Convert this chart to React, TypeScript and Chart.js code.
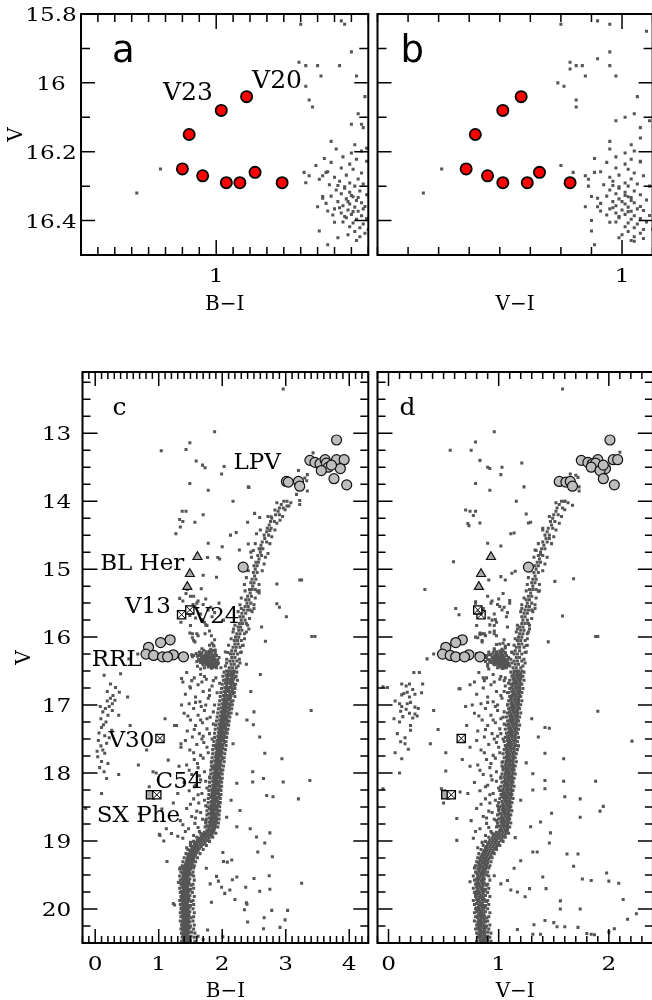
import React, { useEffect, useRef } from "react";
import { Chart, registerables } from "chart.js";

Chart.register(...registerables);

// ---------------- variable stars (V with B−I and V−I colours) ----------------
const rrlV = [16.04, 16.08, 16.15, 16.25, 16.26, 16.27, 16.29, 16.29, 16.29];
const rrlBI = [1.18, 1.03, 0.84, 0.8, 1.23, 0.92, 1.06, 1.14, 1.39];
const rrlVI = [0.67, 0.61, 0.52, 0.49, 0.73, 0.56, 0.61, 0.69, 0.83];

const lpvV = [13.1, 13.4, 13.43, 13.45, 13.39, 13.44, 13.5, 13.39, 13.39, 13.52, 13.55, 13.67, 13.76, 13.71, 13.72, 13.71, 13.78, 13.47];
const lpvBI = [3.8, 3.38, 3.46, 3.54, 3.62, 3.64, 3.67, 3.8, 3.92, 3.86, 3.56, 3.76, 3.96, 3.01, 3.04, 3.2, 3.22, 3.72];
const lpvVI = [2.01, 1.75, 1.81, 1.85, 1.9, 1.88, 1.84, 2.04, 2.08, 1.97, 1.92, 1.95, 2.05, 1.55, 1.61, 1.65, 1.67, 1.95];

const otherV = [14.97];
const otherBI = [2.33];
const otherVI = [1.27];

const blHerV = [14.82, 15.07, 15.26];
const blHerBI = [1.61, 1.49, 1.45];
const blHerVI = [0.93, 0.84, 0.82];

// V13, V24, V30, C54
const boxedV = [15.67, 15.6, 17.49, 18.32];
const boxedBI = [1.36, 1.49, 1.02, 0.97];
const boxedVI = [0.84, 0.81, 0.66, 0.57];

const sxPheV = [18.32];
const sxPheBI = [0.87];
const sxPheVI = [0.52];

// ---------------- field stars, B−I ----------------
// rows: [V, colour, colour, ...]
const rgbRowsBI: number[][] = [
  [14.0, 2.97, 3.02], [14.05, 2.93], [14.1, 2.9, 2.96], [14.15, 2.88], [14.2, 2.84, 2.9], [14.25, 2.78],
  [14.3, 2.82, 2.76], [14.35, 2.74], [14.4, 2.71, 2.77], [14.45, 2.7], [14.5, 2.66, 2.73], [14.55, 2.67],
  [14.6, 2.63, 2.7], [14.65, 2.61], [14.7, 2.64, 2.58], [14.75, 2.6], [14.8, 2.56, 2.62], [14.85, 2.58],
  [14.9, 2.53, 2.57], [14.95, 2.55, 2.5], [15.0, 2.52], [15.05, 2.49, 2.55], [15.1, 2.51], [15.15, 2.47, 2.53],
  [15.2, 2.45, 2.5], [15.25, 2.48], [15.3, 2.43, 2.47, 2.52], [15.32, 2.36, 2.58], [15.35, 2.44], [15.4, 2.4, 2.46],
  [15.45, 2.42, 2.37], [15.5, 2.39, 2.45], [15.55, 2.36, 2.41], [15.58, 2.3, 2.5], [15.6, 2.34, 2.4, 2.44],
  [15.65, 2.31, 2.37], [15.7, 2.33, 2.28], [15.75, 2.3, 2.36], [15.8, 2.27, 2.32, 2.38], [15.85, 2.29, 2.25],
  [15.88, 2.18, 2.42], [15.9, 2.26, 2.31], [15.95, 2.23, 2.28, 2.35], [16.0, 2.21, 2.26], [16.05, 2.24, 2.19, 2.3],
  [16.1, 2.2, 2.25], [16.12, 2.1, 2.33], [16.15, 2.17, 2.22, 2.28], [16.2, 2.15, 2.21], [16.22, 2.05, 2.3],
  [16.25, 2.18, 2.13, 2.24], [16.3, 2.15, 2.2], [16.35, 2.12, 2.17, 2.23], [16.38, 2.07, 2.28], [16.4, 2.14, 2.19],
  [16.45, 2.11, 2.16, 2.22],
  [16.5, 2.07, 2.11, 2.15, 2.19], [16.53, 2.09, 2.14, 2.18], [16.56, 2.06, 2.1, 2.13, 2.17], [16.59, 2.08, 2.15, 2.2],
  [16.62, 2.06, 2.1, 2.14, 2.18], [16.65, 2.07, 2.12, 2.16], [16.68, 2.05, 2.09, 2.13, 2.17], [16.71, 2.07, 2.14, 2.19],
  [16.74, 2.04, 2.08, 2.12, 2.15], [16.77, 2.06, 2.1, 2.16], [16.8, 2.03, 2.07, 2.11, 2.15], [16.83, 2.05, 2.12, 2.17],
  [16.86, 2.02, 2.06, 2.1, 2.14], [16.89, 2.04, 2.09, 2.13], [16.92, 2.01, 2.05, 2.09, 2.12], [16.95, 2.03, 2.07, 2.14],
  [16.98, 2.0, 2.04, 2.08, 2.11], [17.01, 2.02, 2.06, 2.12], [17.04, 1.99, 2.03, 2.07, 2.1], [17.07, 2.01, 2.05, 2.11],
  [17.1, 1.98, 2.02, 2.06, 2.09], [17.13, 2.0, 2.04, 2.1], [17.16, 1.97, 2.01, 2.05, 2.08], [17.19, 1.99, 2.03, 2.07],
  [17.22, 1.96, 2.0, 2.04, 2.07], [17.25, 1.98, 2.02, 2.08], [17.28, 1.95, 1.99, 2.03, 2.06], [17.31, 1.97, 2.01, 2.05],
  [17.34, 1.94, 1.98, 2.02, 2.05], [17.37, 1.96, 2.0, 2.06], [17.4, 1.94, 1.97, 2.01, 2.04], [17.43, 1.95, 1.99, 2.03],
  [17.46, 1.93, 1.96, 2.0, 2.04], [17.49, 1.94, 1.98, 2.02], [17.52, 1.92, 1.95, 1.99, 2.02], [17.55, 1.93, 1.97, 2.03],
  [17.58, 1.91, 1.95, 1.98, 2.01], [17.61, 1.93, 1.96, 2.0], [17.64, 1.9, 1.94, 1.97, 2.01], [17.67, 1.92, 1.95, 1.99],
  [17.7, 1.9, 1.93, 1.96, 2.0], [17.73, 1.91, 1.95, 1.98], [17.76, 1.89, 1.92, 1.96, 1.99], [17.79, 1.91, 1.94, 2.0],
  [17.82, 1.88, 1.92, 1.95, 1.98], [17.85, 1.9, 1.93, 1.97], [17.88, 1.88, 1.91, 1.94, 1.98], [17.91, 1.89, 1.93, 1.96],
  [17.94, 1.87, 1.9, 1.94, 1.97], [17.97, 1.89, 1.92, 1.98], [18.0, 1.86, 1.9, 1.93, 1.96], [18.03, 1.88, 1.91, 1.95],
  [18.06, 1.86, 1.89, 1.93, 1.96], [18.09, 1.87, 1.91, 1.97], [18.12, 1.85, 1.89, 1.92, 1.95], [18.15, 1.87, 1.9, 1.94],
  [18.18, 1.85, 1.88, 1.92, 1.95], [18.21, 1.86, 1.9, 1.96], [18.24, 1.84, 1.88, 1.91, 1.94], [18.27, 1.86, 1.89, 1.93],
  [18.3, 1.84, 1.87, 1.91, 1.94], [18.33, 1.85, 1.89, 1.95], [18.36, 1.83, 1.87, 1.9, 1.93], [18.39, 1.85, 1.88, 1.92],
  [18.42, 1.83, 1.86, 1.9, 1.93], [18.45, 1.84, 1.88, 1.94], [18.48, 1.82, 1.86, 1.89, 1.92], [18.51, 1.84, 1.87, 1.91],
  [18.54, 1.82, 1.85, 1.89, 1.92], [18.57, 1.83, 1.87, 1.93], [18.6, 1.81, 1.85, 1.88, 1.91], [18.63, 1.83, 1.86, 1.9],
  [18.66, 1.8, 1.84, 1.88, 1.91], [18.69, 1.82, 1.86, 1.91], [18.72, 1.79, 1.83, 1.87, 1.9], [18.75, 1.81, 1.85, 1.89],
  [18.78, 1.78, 1.82, 1.86, 1.89], [18.81, 1.79, 1.84, 1.88], [18.84, 1.76, 1.8, 1.84, 1.87],
];

// outer stars of the giant branch, subgiant branch and main sequence
const edgeRowsBI: number[][] = [
  [14.025, 2.86, 3.08], [14.125, 2.99], [14.225, 2.72, 2.95], [14.325, 2.86], [14.425, 2.6, 2.83], [14.525, 2.78],
  [14.625, 2.52, 2.75], [14.725, 2.49], [14.825, 2.46, 2.68], [14.925, 2.66], [15.025, 2.41, 2.63], [15.125, 2.38],
  [15.225, 2.35, 2.58], [15.325, 2.55], [15.425, 2.3, 2.52], [15.525, 2.28, 2.5], [15.625, 2.25, 2.47], [15.725, 2.43],
  [15.825, 2.2, 2.4], [15.925, 2.17, 2.38], [16.025, 2.14, 2.35], [16.125, 2.32], [16.225, 2.09, 2.29], [16.325, 2.07, 2.27],
  [16.425, 2.05, 2.25],
  [16.515, 2.03, 2.23], [16.575, 2.01, 2.22], [16.635, 2.02, 2.24], [16.695, 2.0, 2.21], [16.755, 1.99, 2.2],
  [16.815, 1.98, 2.19], [16.875, 1.97, 2.2], [16.935, 1.96, 2.17], [16.995, 1.95, 2.16], [17.055, 1.94, 2.15],
  [17.115, 1.93, 2.14], [17.175, 1.92, 2.12], [17.235, 1.91, 2.11], [17.295, 1.9, 2.1], [17.355, 1.89, 2.09],
  [17.415, 1.88, 2.08], [17.475, 1.88, 2.07], [17.535, 1.87, 2.06], [17.595, 1.86, 2.06], [17.655, 1.85, 2.05],
  [17.715, 1.85, 2.04], [17.775, 1.84, 2.03], [17.835, 1.83, 2.03], [17.895, 1.83, 2.02], [17.955, 1.82, 2.01],
  [18.015, 1.82, 2.0], [18.075, 1.81, 2.0], [18.135, 1.8, 1.99], [18.195, 1.8, 1.99], [18.255, 1.79, 1.98],
  [18.315, 1.79, 1.98], [18.375, 1.78, 1.97], [18.435, 1.78, 1.97], [18.495, 1.77, 1.96], [18.555, 1.76, 1.96],
  [18.615, 1.76, 1.95], [18.675, 1.75, 1.95], [18.735, 1.74, 1.94], [18.795, 1.73, 1.93],
  [18.885, 1.66, 1.9], [18.945, 1.6, 1.85], [19.005, 1.55, 1.8], [19.065, 1.5, 1.75], [19.125, 1.46, 1.7],
  [19.185, 1.43, 1.65], [19.245, 1.4, 1.61], [19.305, 1.38, 1.58], [19.365, 1.37, 1.56],
  [19.395, 1.34, 1.55], [19.455, 1.35, 1.54], [19.515, 1.33, 1.55], [19.575, 1.34, 1.56], [19.635, 1.35, 1.54],
  [19.695, 1.33, 1.55], [19.755, 1.34, 1.53], [19.815, 1.35, 1.56], [19.875, 1.33, 1.54], [19.935, 1.34, 1.55],
  [19.995, 1.35, 1.54], [20.055, 1.34, 1.56], [20.115, 1.35, 1.55], [20.175, 1.34, 1.54], [20.235, 1.36, 1.56],
  [20.295, 1.35, 1.55], [20.355, 1.36, 1.57], [20.415, 1.37, 1.56], [20.475, 1.36, 1.57],
];

const sgbRowsBI: number[][] = [
  [18.87, 1.72, 1.77, 1.82, 1.86], [18.9, 1.7, 1.75, 1.8, 1.84], [18.93, 1.67, 1.72, 1.77, 1.82],
  [18.96, 1.64, 1.69, 1.74, 1.79], [18.99, 1.61, 1.66, 1.71, 1.76], [19.02, 1.58, 1.63, 1.68, 1.73],
  [19.05, 1.56, 1.6, 1.65, 1.7], [19.08, 1.54, 1.58, 1.62, 1.67], [19.11, 1.52, 1.56, 1.6, 1.64],
  [19.14, 1.5, 1.54, 1.58, 1.62], [19.17, 1.49, 1.52, 1.56, 1.6], [19.2, 1.47, 1.51, 1.54, 1.58],
  [19.23, 1.46, 1.5, 1.53, 1.56], [19.26, 1.45, 1.48, 1.52, 1.55], [19.29, 1.44, 1.47, 1.51, 1.54],
  [19.32, 1.43, 1.46, 1.49, 1.53], [19.35, 1.42, 1.45, 1.48, 1.52],
];

const msRowsBI: number[][] = [
  [19.38, 1.39, 1.43, 1.47, 1.51], [19.41, 1.38, 1.42, 1.46, 1.5], [19.44, 1.4, 1.44, 1.48], [19.47, 1.37, 1.41, 1.45, 1.49],
  [19.5, 1.39, 1.43, 1.47, 1.52], [19.53, 1.38, 1.42, 1.46], [19.56, 1.37, 1.41, 1.44, 1.49], [19.59, 1.39, 1.43, 1.47],
  [19.62, 1.36, 1.4, 1.44, 1.48], [19.65, 1.38, 1.42, 1.46, 1.51], [19.68, 1.37, 1.41, 1.45], [19.71, 1.39, 1.43, 1.47, 1.5],
  [19.74, 1.36, 1.4, 1.44, 1.48], [19.77, 1.38, 1.42, 1.46], [19.8, 1.37, 1.41, 1.45, 1.49], [19.83, 1.39, 1.43, 1.47],
  [19.86, 1.36, 1.4, 1.44, 1.48], [19.89, 1.38, 1.42, 1.46, 1.51], [19.92, 1.37, 1.41, 1.45], [19.95, 1.39, 1.43, 1.47, 1.5],
  [19.98, 1.36, 1.4, 1.44, 1.48], [20.01, 1.38, 1.42, 1.46], [20.04, 1.37, 1.41, 1.45, 1.49], [20.07, 1.39, 1.43, 1.47],
  [20.1, 1.37, 1.4, 1.44, 1.48], [20.13, 1.38, 1.42, 1.46, 1.51], [20.16, 1.39, 1.43, 1.47], [20.19, 1.37, 1.41, 1.45, 1.49],
  [20.22, 1.38, 1.42, 1.46], [20.25, 1.39, 1.43, 1.47, 1.5], [20.28, 1.37, 1.41, 1.45, 1.49], [20.31, 1.38, 1.42, 1.46],
  [20.34, 1.4, 1.44, 1.48, 1.52], [20.37, 1.38, 1.42, 1.46], [20.4, 1.39, 1.43, 1.47, 1.51], [20.43, 1.4, 1.44, 1.48],
  [20.46, 1.39, 1.43, 1.47, 1.5], [20.49, 1.41, 1.45, 1.49],
];

// pairs: [colour, V]
// RGB bump clump at the horizontal-branch level
const clumpBI: number[][] = [
  [1.71, 16.192], [1.8, 16.204], [1.86, 16.198], [1.75, 16.215], [1.83, 16.222], [1.68, 16.231], [1.79, 16.236], [1.89, 16.228],
  [1.74, 16.247], [1.81, 16.251], [1.66, 16.258], [1.86, 16.262], [1.77, 16.268], [1.7, 16.274], [1.84, 16.279], [1.91, 16.27],
  [1.73, 16.286], [1.79, 16.291], [1.67, 16.296], [1.82, 16.3], [1.87, 16.294], [1.76, 16.306], [1.71, 16.311], [1.85, 16.314],
  [1.79, 16.318], [1.74, 16.322], [1.89, 16.325], [1.68, 16.329], [1.81, 16.331], [1.77, 16.337], [1.83, 16.342], [1.72, 16.345],
  [1.86, 16.348], [1.79, 16.352], [1.65, 16.35], [1.75, 16.357], [1.82, 16.361], [1.88, 16.359], [1.7, 16.366], [1.78, 16.369],
  [1.84, 16.373], [1.91, 16.371], [1.74, 16.378], [1.8, 16.382], [1.86, 16.386], [1.69, 16.384], [1.77, 16.392], [1.83, 16.396],
  [1.89, 16.394], [1.75, 16.404], [1.81, 16.407], [1.87, 16.41], [1.92, 16.404], [1.79, 16.418], [1.85, 16.421], [1.9, 16.426],
  [1.82, 16.432], [1.88, 16.437], [1.78, 16.441], [1.85, 16.447], [1.91, 16.452], [1.83, 16.458], [1.76, 16.302], [1.8, 16.327],
  [1.73, 16.363], [1.84, 16.333], [1.78, 16.345], [1.81, 16.374], [1.76, 16.388], [1.87, 16.366], [1.72, 16.298], [1.93, 16.34],
  [1.94, 16.385], [1.66, 16.372], [1.7, 16.405], [1.63, 16.335], [1.95, 16.3], [1.61, 16.28], [1.63, 16.33], [1.6, 16.36],
  [1.64, 16.22],
];

const hbFieldBI: number[][] = [
  [0.53, 16.32], [0.67, 16.25], [1.5, 15.83], [1.74, 15.82], [1.76, 15.83], [1.8, 15.91], [1.49, 15.94], [1.53, 15.95],
  [1.6, 15.95], [1.62, 15.98], [1.73, 15.95], [1.83, 15.98], [1.88, 16.04], [1.55, 16.05], [1.57, 16.07], [1.53, 16.01],
  [1.8, 16.12], [1.84, 16.09], [1.86, 16.12], [1.87, 16.13], [1.68, 16.17], [1.82, 16.18], [1.89, 16.19], [1.59, 16.24],
  [1.52, 16.26], [1.55, 16.27], [1.53, 16.29], [1.63, 16.27], [1.65, 16.26], [1.61, 16.43], [1.66, 16.47], [1.72, 16.45],
];

const plumeBI: number[][] = [
  [1.55, 15.4], [1.62, 15.47], [1.7, 15.52], [1.5, 15.58], [1.78, 15.6], [1.66, 15.66], [1.58, 15.72], [1.84, 15.7],
  [1.72, 15.78], [1.98, 16.45], [1.44, 16.52], [1.66, 16.55], [1.56, 16.6], [1.75, 16.62], [1.38, 16.66], [1.62, 16.7],
  [1.84, 16.72], [1.5, 16.75], [1.7, 16.8], [1.42, 16.84], [1.58, 16.88], [1.78, 16.9], [1.65, 16.95], [1.48, 16.98],
  [1.88, 17.0], [1.55, 17.05], [1.72, 17.08], [1.4, 17.12], [1.62, 17.15], [1.81, 17.18], [1.5, 17.22], [1.69, 17.26],
  [1.58, 17.3], [1.76, 17.35], [1.45, 17.38], [1.64, 17.42], [1.53, 17.47], [1.84, 17.5], [1.71, 17.55], [1.6, 17.58],
  [1.35, 17.62], [1.49, 17.66], [1.78, 17.7], [1.66, 17.74], [1.56, 17.8], [1.83, 17.84], [1.44, 17.88], [1.62, 17.92],
  [1.72, 17.98], [1.52, 18.02], [1.8, 18.06], [1.66, 18.1], [1.4, 18.14], [1.58, 18.18], [1.76, 18.22], [1.48, 18.26],
  [1.68, 18.3], [1.82, 18.34], [1.55, 18.38], [1.63, 18.44], [1.74, 18.48], [1.44, 18.52], [1.6, 18.56], [1.79, 18.6],
  [1.52, 18.64], [1.69, 18.68], [1.57, 18.74], [1.76, 18.78], [1.47, 18.82], [1.64, 18.86], [1.55, 18.92], [1.38, 18.96],
  [1.5, 19.02], [1.44, 19.1], [1.72, 16.58], [1.8, 16.78], [1.67, 17.02], [1.76, 17.2], [1.7, 17.46], [1.61, 17.86],
  [1.45, 15.62], [1.6, 15.5], [1.74, 15.44], [1.82, 15.56], [1.68, 15.74], [1.88, 15.64], [1.95, 15.5], [2.02, 15.75],
  [1.9, 16.6], [1.96, 16.68], [1.52, 16.64], [1.68, 16.66], [1.8, 16.86], [1.92, 16.82], [1.58, 16.96], [1.74, 17.0],
  [1.86, 17.1], [1.46, 17.16], [1.66, 17.22], [1.86, 17.28], [1.56, 17.36], [1.8, 17.42], [1.68, 17.5], [1.9, 17.6],
  [1.42, 17.52], [1.76, 17.62], [1.55, 17.7], [1.7, 17.78], [1.85, 17.92], [1.48, 17.96], [1.64, 18.04], [1.74, 18.12],
  [1.56, 18.2], [1.84, 18.26], [1.62, 18.32], [1.72, 18.4], [1.5, 18.46], [1.8, 18.52], [1.66, 18.58], [1.58, 18.66],
  [1.74, 18.7], [1.62, 18.8], [1.42, 18.86], [1.7, 18.9], [1.34, 18.7], [1.3, 18.3], [1.32, 17.9], [1.28, 17.3],
  [1.36, 17.0], [1.86, 16.64],
];

const bhbBI: number[][] = [
  [0.14, 16.56], [0.4, 16.54], [0.24, 16.69], [0.32, 16.74], [0.19, 16.8], [0.38, 16.81], [0.28, 16.86], [0.51, 16.88],
  [0.24, 16.9], [0.19, 16.94], [0.27, 16.98], [0.31, 16.93], [0.22, 17.02], [0.16, 17.05], [0.12, 17.1], [0.27, 17.08],
  [0.2, 17.15], [0.37, 17.15], [0.09, 17.2], [0.17, 17.25], [0.13, 17.29], [0.1, 17.33], [0.26, 17.37], [0.06, 17.41],
  [0.15, 17.45], [0.05, 17.52], [0.18, 17.56], [0.09, 17.6], [0.12, 17.66], [0.15, 17.71], [0.04, 17.76], [0.1, 17.83],
  [0.2, 17.86], [0.07, 17.92], [0.14, 17.98], [0.18, 18.08], [0.37, 18.02], [0.1, 18.3], [-0.15, 18.52], [0.03, 17.68],
  [0.22, 17.48], [0.08, 17.02],
];

const sparseBI: number[][] = [
  [2.96, 12.35], [1.88, 12.98], [1.04, 13.26], [1.49, 13.14], [1.43, 13.24], [1.59, 13.41], [1.69, 13.47], [1.73, 13.51],
  [2.03, 13.49], [1.99, 13.6], [1.49, 13.74], [1.78, 13.84], [2.42, 13.8], [2.17, 14.0], [1.37, 14.15], [1.43, 14.15],
  [1.33, 14.27], [1.38, 14.3], [1.57, 14.31], [1.7, 14.2], [1.34, 14.38], [1.27, 14.48], [2.51, 14.18], [2.59, 14.24],
  [2.4, 14.31], [2.22, 14.46], [2.13, 14.5], [2.0, 14.67], [1.78, 14.62], [1.77, 14.83], [1.93, 14.83], [2.83, 14.13],
  [3.02, 14.07], [3.22, 14.05], [3.2, 13.55], [3.34, 13.61], [3.3, 13.66], [3.33, 13.7], [3.28, 13.79], [3.34, 13.85],
  [3.17, 13.9], [3.43, 13.29], [3.05, 14.07], [3.22, 13.99], [2.41, 13.79], [1.96, 14.85], [2.27, 14.72], [2.72, 14.77],
  [2.45, 14.75], [2.41, 14.63], [2.54, 14.48], [2.77, 14.23], [2.91, 14.28], [2.75, 14.43], [2.61, 14.7],
  [3.25, 15.16], [2.86, 15.51], [3.01, 15.7], [3.41, 15.99], [3.46, 15.99], [2.68, 16.06], [1.7, 15.09], [1.91, 15.12],
  [1.67, 15.29], [2.86, 15.22], [3.22, 15.16], [2.9, 15.56], [1.35, 15.78], [1.49, 15.68], [1.57, 15.55],
  [1.33, 15.43], [1.43, 15.36], [1.36, 16.61], [1.49, 16.73], [1.45, 15.3], [1.5, 15.4], [1.54, 15.52], [1.38, 15.47],
  [2.6, 16.55], [2.45, 16.8], [2.38, 16.4], [2.5, 17.1], [2.58, 15.35], [2.62, 15.85],
  [2.23, 17.13], [2.39, 17.22], [2.49, 17.29], [2.59, 17.47], [2.67, 17.71], [2.94, 17.79], [3.4, 17.08], [2.48, 17.98],
  [2.48, 18.13], [2.65, 18.08], [2.96, 18.13], [3.38, 18.11], [3.2, 18.38], [2.7, 18.33], [2.8, 18.35], [2.17, 17.57],
  [2.23, 18.15], [2.14, 18.4], [2.28, 18.55], [2.07, 18.65], [2.23, 18.79], [2.44, 18.82], [2.75, 18.88], [2.54, 18.94],
  [2.67, 19.03], [2.56, 19.16], [2.79, 19.23], [2.01, 19.17], [2.02, 19.3], [2.15, 19.28], [2.08, 19.31], [1.75, 19.4],
  [1.91, 19.52], [1.81, 19.63], [1.94, 19.59], [1.99, 19.68], [2.16, 19.57], [2.23, 19.53], [2.5, 19.55], [2.74, 19.51],
  [3.25, 19.62], [2.04, 19.77], [2.12, 19.72], [2.37, 19.68], [2.59, 19.74], [2.75, 19.71], [1.83, 19.9], [2.2, 19.86],
  [2.38, 19.91], [2.39, 19.93], [2.35, 20.01], [2.78, 20.02], [3.03, 20.02], [2.4, 20.19], [2.66, 20.13], [2.99, 20.16],
  [2.91, 20.27], [2.65, 20.29], [2.01, 20.41], [1.77, 20.31], [1.62, 20.4], [1.7, 20.45],
  [1.13, 19.3], [1.01, 18.9], [1.08, 19.0], [1.2, 18.89], [1.3, 18.93], [1.33, 19.41], [1.31, 19.61], [1.25, 19.94],
  [1.38, 18.76], [1.23, 19.92], [0.81, 17.66], [0.68, 17.88], [0.91, 17.98], [1.15, 17.81], [1.35, 17.57], [0.96, 18.0],
  [1.23, 18.44], [1.05, 18.53], [1.12, 18.82], [1.02, 18.92], [0.55, 17.3], [1.25, 17.3], [0.7, 18.6], [1.1, 17.2],
  [0.85, 18.2],
];

// ---------------- field stars, V−I ----------------
const rgbRowsVI: number[][] = [
  [14.0, 1.57, 1.6], [14.05, 1.55], [14.1, 1.53, 1.58], [14.15, 1.52], [14.2, 1.5, 1.54], [14.25, 1.49],
  [14.3, 1.47, 1.51], [14.35, 1.48], [14.4, 1.45, 1.49], [14.45, 1.44], [14.5, 1.42, 1.46], [14.55, 1.43],
  [14.6, 1.4, 1.44], [14.65, 1.41], [14.7, 1.39, 1.42], [14.75, 1.38], [14.8, 1.36, 1.4], [14.85, 1.37],
  [14.9, 1.35, 1.38], [14.95, 1.36, 1.33], [15.0, 1.34], [15.05, 1.32, 1.36], [15.1, 1.33], [15.15, 1.31, 1.34],
  [15.2, 1.3, 1.33], [15.25, 1.31], [15.3, 1.28, 1.31, 1.34], [15.32, 1.25, 1.37], [15.35, 1.29], [15.4, 1.27, 1.3],
  [15.45, 1.28, 1.25], [15.5, 1.26, 1.3], [15.55, 1.25, 1.28], [15.58, 1.21, 1.33], [15.6, 1.24, 1.27, 1.3],
  [15.65, 1.23, 1.26], [15.7, 1.24, 1.21], [15.75, 1.22, 1.26], [15.8, 1.21, 1.24, 1.27], [15.85, 1.22, 1.19],
  [15.88, 1.17, 1.28], [15.9, 1.2, 1.23], [15.95, 1.19, 1.22, 1.26], [16.0, 1.18, 1.21], [16.05, 1.2, 1.17, 1.24],
  [16.1, 1.18, 1.21], [16.12, 1.14, 1.26], [16.15, 1.16, 1.19, 1.23], [16.2, 1.15, 1.19], [16.22, 1.12, 1.25],
  [16.25, 1.17, 1.14, 1.21], [16.3, 1.16, 1.19], [16.35, 1.14, 1.17, 1.21], [16.38, 1.12, 1.24], [16.4, 1.15, 1.18],
  [16.45, 1.13, 1.16, 1.2],
  [16.5, 1.14, 1.16, 1.18, 1.21], [16.53, 1.14, 1.17, 1.2], [16.56, 1.13, 1.16, 1.18, 1.2], [16.59, 1.14, 1.17, 1.2],
  [16.62, 1.13, 1.15, 1.18, 1.2], [16.65, 1.14, 1.16, 1.19], [16.68, 1.13, 1.15, 1.17, 1.2], [16.71, 1.13, 1.16, 1.19],
  [16.74, 1.12, 1.15, 1.17, 1.19], [16.77, 1.13, 1.16, 1.19], [16.8, 1.12, 1.14, 1.17, 1.19], [16.83, 1.13, 1.15, 1.18],
  [16.86, 1.12, 1.14, 1.16, 1.19], [16.89, 1.12, 1.15, 1.18], [16.92, 1.11, 1.14, 1.16, 1.18], [16.95, 1.12, 1.15, 1.18],
  [16.98, 1.11, 1.13, 1.16, 1.18], [17.01, 1.12, 1.14, 1.17], [17.04, 1.11, 1.13, 1.15, 1.18], [17.07, 1.12, 1.14, 1.17],
  [17.1, 1.1, 1.13, 1.15, 1.17], [17.13, 1.11, 1.14, 1.17], [17.16, 1.1, 1.12, 1.15, 1.17], [17.19, 1.11, 1.13, 1.16],
  [17.22, 1.1, 1.12, 1.14, 1.17], [17.25, 1.11, 1.13, 1.16], [17.28, 1.09, 1.12, 1.14, 1.16], [17.31, 1.1, 1.13, 1.16],
  [17.34, 1.09, 1.11, 1.14, 1.16], [17.37, 1.1, 1.12, 1.15], [17.4, 1.09, 1.11, 1.13, 1.16], [17.43, 1.1, 1.12, 1.15],
  [17.46, 1.08, 1.11, 1.13, 1.15], [17.49, 1.09, 1.12, 1.15], [17.52, 1.08, 1.1, 1.13, 1.15], [17.55, 1.09, 1.11, 1.14],
  [17.58, 1.08, 1.1, 1.12, 1.15], [17.61, 1.09, 1.11, 1.14], [17.64, 1.07, 1.1, 1.12, 1.14], [17.67, 1.08, 1.11, 1.14],
  [17.7, 1.07, 1.09, 1.12, 1.14], [17.73, 1.08, 1.1, 1.13], [17.76, 1.07, 1.09, 1.12, 1.14], [17.79, 1.08, 1.1, 1.13],
  [17.82, 1.07, 1.09, 1.11, 1.13], [17.85, 1.07, 1.1, 1.13], [17.88, 1.06, 1.09, 1.11, 1.13], [17.91, 1.07, 1.1, 1.13],
  [17.94, 1.06, 1.08, 1.11, 1.13], [17.97, 1.07, 1.09, 1.12], [18.0, 1.06, 1.08, 1.1, 1.13], [18.03, 1.06, 1.09, 1.12],
  [18.06, 1.05, 1.08, 1.1, 1.12], [18.09, 1.06, 1.09, 1.12], [18.12, 1.05, 1.07, 1.1, 1.12], [18.15, 1.06, 1.08, 1.11],
  [18.18, 1.05, 1.07, 1.09, 1.12], [18.21, 1.05, 1.08, 1.11], [18.24, 1.04, 1.07, 1.09, 1.11], [18.27, 1.05, 1.08, 1.11],
  [18.3, 1.04, 1.06, 1.09, 1.11], [18.33, 1.05, 1.07, 1.1], [18.36, 1.04, 1.06, 1.08, 1.11], [18.39, 1.05, 1.07, 1.1],
  [18.42, 1.03, 1.06, 1.08, 1.1], [18.45, 1.04, 1.07, 1.1], [18.48, 1.03, 1.05, 1.08, 1.1], [18.51, 1.04, 1.06, 1.09],
  [18.54, 1.03, 1.05, 1.07, 1.1], [18.57, 1.04, 1.06, 1.09], [18.6, 1.02, 1.05, 1.07, 1.09], [18.63, 1.03, 1.06, 1.09],
  [18.66, 1.02, 1.04, 1.07, 1.09], [18.69, 1.03, 1.05, 1.08], [18.72, 1.02, 1.04, 1.06, 1.09], [18.75, 1.03, 1.05, 1.08],
  [18.78, 1.01, 1.04, 1.06, 1.08], [18.81, 1.02, 1.05, 1.08], [18.84, 1.01, 1.03, 1.06, 1.08],
];

const edgeRowsVI: number[][] = [
  [14.025, 1.52, 1.63], [14.125, 1.6], [14.225, 1.46, 1.57], [14.325, 1.55], [14.425, 1.4, 1.52], [14.525, 1.5],
  [14.625, 1.36, 1.48], [14.725, 1.34], [14.825, 1.32, 1.44], [14.925, 1.42], [15.025, 1.29, 1.4], [15.125, 1.27],
  [15.225, 1.26, 1.37], [15.325, 1.36], [15.425, 1.23, 1.34], [15.525, 1.21, 1.33], [15.625, 1.2, 1.31], [15.725, 1.3],
  [15.825, 1.17, 1.28], [15.925, 1.16, 1.27], [16.025, 1.15, 1.26], [16.125, 1.25], [16.225, 1.12, 1.24], [16.325, 1.11, 1.23],
  [16.425, 1.1, 1.22],
  [16.515, 1.11, 1.23], [16.575, 1.12, 1.22], [16.635, 1.1, 1.23], [16.695, 1.11, 1.21], [16.755, 1.1, 1.22],
  [16.815, 1.09, 1.21], [16.875, 1.1, 1.2], [16.935, 1.09, 1.21], [16.995, 1.08, 1.2], [17.055, 1.09, 1.19],
  [17.115, 1.08, 1.2], [17.175, 1.07, 1.19], [17.235, 1.08, 1.18], [17.295, 1.07, 1.19], [17.355, 1.06, 1.18],
  [17.415, 1.07, 1.17], [17.475, 1.06, 1.18], [17.535, 1.05, 1.17], [17.595, 1.06, 1.16], [17.655, 1.05, 1.17],
  [17.715, 1.04, 1.16], [17.775, 1.05, 1.15], [17.835, 1.04, 1.16], [17.895, 1.03, 1.15], [17.955, 1.04, 1.14],
  [18.015, 1.03, 1.15], [18.075, 1.02, 1.14], [18.135, 1.03, 1.13], [18.195, 1.02, 1.14], [18.255, 1.01, 1.13],
  [18.315, 1.02, 1.12], [18.375, 1.01, 1.13], [18.435, 1.0, 1.12], [18.495, 1.01, 1.11], [18.555, 1.0, 1.12],
  [18.615, 0.99, 1.11], [18.675, 1.0, 1.1], [18.735, 0.99, 1.11], [18.795, 0.98, 1.1],
  [18.885, 0.94, 1.09], [18.945, 0.91, 1.06], [19.005, 0.88, 1.04], [19.065, 0.86, 1.01], [19.125, 0.84, 0.98],
  [19.185, 0.82, 0.96], [19.245, 0.81, 0.94], [19.305, 0.8, 0.93], [19.365, 0.79, 0.92],
  [19.395, 0.78, 0.91], [19.455, 0.79, 0.9], [19.515, 0.77, 0.91], [19.575, 0.78, 0.92], [19.635, 0.79, 0.9],
  [19.695, 0.77, 0.91], [19.755, 0.78, 0.9], [19.815, 0.79, 0.92], [19.875, 0.77, 0.9], [19.935, 0.78, 0.91],
  [19.995, 0.79, 0.9], [20.055, 0.78, 0.92], [20.115, 0.79, 0.91], [20.175, 0.78, 0.9], [20.235, 0.8, 0.92],
  [20.295, 0.79, 0.91], [20.355, 0.8, 0.93], [20.415, 0.81, 0.92], [20.475, 0.8, 0.93],
];

const sgbRowsVI: number[][] = [
  [18.87, 0.98, 1.01, 1.04, 1.07], [18.9, 0.97, 1.0, 1.03, 1.06], [18.93, 0.95, 0.98, 1.01, 1.04],
  [18.96, 0.94, 0.97, 1.0, 1.03], [18.99, 0.92, 0.95, 0.98, 1.02], [19.02, 0.91, 0.94, 0.97, 1.0],
  [19.05, 0.9, 0.93, 0.96, 0.99], [19.08, 0.89, 0.92, 0.95, 0.98], [19.11, 0.88, 0.9, 0.93, 0.96],
  [19.14, 0.87, 0.89, 0.92, 0.95], [19.17, 0.86, 0.88, 0.91, 0.94], [19.2, 0.85, 0.87, 0.9, 0.93],
  [19.23, 0.84, 0.86, 0.89, 0.92], [19.26, 0.83, 0.86, 0.88, 0.91], [19.29, 0.83, 0.85, 0.88, 0.9],
  [19.32, 0.82, 0.85, 0.87, 0.9], [19.35, 0.82, 0.84, 0.87, 0.89],
];

const msRowsVI: number[][] = [
  [19.38, 0.82, 0.84, 0.86, 0.89], [19.41, 0.81, 0.83, 0.86, 0.88], [19.44, 0.82, 0.85, 0.87], [19.47, 0.8, 0.83, 0.85, 0.87],
  [19.5, 0.81, 0.84, 0.86, 0.89], [19.53, 0.81, 0.83, 0.86], [19.56, 0.8, 0.82, 0.85, 0.87], [19.59, 0.81, 0.84, 0.86],
  [19.62, 0.8, 0.82, 0.85, 0.87], [19.65, 0.81, 0.83, 0.86, 0.89], [19.68, 0.8, 0.83, 0.85], [19.71, 0.81, 0.84, 0.86, 0.88],
  [19.74, 0.8, 0.82, 0.85, 0.87], [19.77, 0.81, 0.83, 0.86], [19.8, 0.8, 0.83, 0.85, 0.88], [19.83, 0.82, 0.84, 0.86],
  [19.86, 0.8, 0.82, 0.85, 0.87], [19.89, 0.81, 0.83, 0.86, 0.89], [19.92, 0.8, 0.83, 0.85], [19.95, 0.82, 0.84, 0.86, 0.88],
  [19.98, 0.8, 0.82, 0.85, 0.87], [20.01, 0.81, 0.83, 0.86], [20.04, 0.8, 0.83, 0.85, 0.88], [20.07, 0.82, 0.84, 0.86],
  [20.1, 0.81, 0.83, 0.85, 0.87], [20.13, 0.81, 0.84, 0.86, 0.89], [20.16, 0.82, 0.84, 0.87], [20.19, 0.81, 0.83, 0.85, 0.88],
  [20.22, 0.82, 0.84, 0.86], [20.25, 0.82, 0.84, 0.87, 0.89], [20.28, 0.81, 0.83, 0.86, 0.88], [20.31, 0.82, 0.84, 0.87],
  [20.34, 0.83, 0.85, 0.87, 0.9], [20.37, 0.82, 0.84, 0.87], [20.4, 0.83, 0.85, 0.88, 0.9], [20.43, 0.83, 0.86, 0.88],
  [20.46, 0.83, 0.85, 0.87, 0.9], [20.49, 0.84, 0.86, 0.89],
];

const clumpVI: number[][] = [
  [0.96, 16.192], [1.01, 16.204], [1.04, 16.198], [0.98, 16.215], [1.03, 16.222], [0.95, 16.231], [1.01, 16.236], [1.06, 16.228],
  [0.98, 16.247], [1.02, 16.251], [0.93, 16.258], [1.04, 16.262], [0.99, 16.268], [0.96, 16.274], [1.03, 16.279], [1.07, 16.27],
  [0.97, 16.286], [1.01, 16.291], [0.94, 16.296], [1.02, 16.3], [1.05, 16.294], [0.99, 16.306], [0.96, 16.311], [1.04, 16.314],
  [1.01, 16.318], [0.98, 16.322], [1.06, 16.325], [0.95, 16.329], [1.02, 16.331], [0.99, 16.337], [1.03, 16.342], [0.97, 16.345],
  [1.04, 16.348], [1.01, 16.352], [0.93, 16.35], [0.98, 16.357], [1.02, 16.361], [1.06, 16.359], [0.96, 16.366], [1.0, 16.369],
  [1.03, 16.373], [1.07, 16.371], [0.98, 16.378], [1.01, 16.382], [1.04, 16.386], [0.95, 16.384], [0.99, 16.392], [1.03, 16.396],
  [1.06, 16.394], [0.98, 16.404], [1.02, 16.407], [1.05, 16.41], [1.08, 16.404], [1.01, 16.418], [1.04, 16.421], [1.07, 16.426],
  [1.02, 16.432], [1.06, 16.437], [1.0, 16.441], [1.04, 16.447], [1.07, 16.452], [1.03, 16.458], [0.99, 16.302], [1.01, 16.327],
  [0.97, 16.363], [1.03, 16.333], [1.0, 16.345], [1.02, 16.374], [0.99, 16.388], [1.05, 16.366], [0.97, 16.298], [1.08, 16.34],
  [1.09, 16.385], [0.93, 16.372], [0.96, 16.405], [0.92, 16.335], [1.09, 16.3], [0.89, 16.28], [0.9, 16.33], [0.88, 16.36],
  [0.91, 16.22],
];

const hbFieldVI: number[][] = [
  [0.35, 16.32], [0.41, 16.25], [0.8, 15.83], [0.92, 15.82], [0.96, 15.83], [1.08, 15.85], [0.96, 15.91], [0.83, 15.94],
  [0.85, 15.95], [0.83, 15.96], [0.87, 15.95], [0.88, 15.98], [0.92, 15.93], [0.96, 15.95], [0.98, 15.98], [0.79, 16.0],
  [0.81, 16.01], [0.85, 16.05], [0.85, 16.07], [1.05, 16.04], [0.98, 16.11], [1.01, 16.1], [1.04, 16.09], [1.06, 16.13],
  [1.09, 16.11], [1.03, 16.18], [1.06, 16.16], [0.96, 16.17], [0.8, 16.24], [0.84, 16.26], [0.88, 16.27], [0.91, 16.26],
  [0.9, 16.43], [0.91, 16.47], [0.99, 16.45], [1.04, 16.46], [1.06, 16.23], [0.89, 16.3], [0.92, 16.36], [0.9, 16.4],
];

const plumeVI: number[][] = [
  [0.9, 15.4], [0.94, 15.47], [0.99, 15.52], [0.86, 15.58], [1.03, 15.6], [0.96, 15.66], [0.91, 15.72], [1.07, 15.7],
  [0.98, 15.78], [0.91, 15.16], [1.02, 15.11], [1.06, 15.16], [1.12, 15.06], [1.15, 15.03], [1.04, 15.36], [1.1, 15.46],
  [1.01, 15.55], [0.94, 15.75], [0.79, 15.48],
  [0.82, 16.52], [0.95, 16.55], [0.89, 16.6], [1.01, 16.62], [0.78, 16.66], [0.93, 16.7], [1.06, 16.72], [0.86, 16.75],
  [0.98, 16.8], [0.8, 16.84], [0.9, 16.88], [1.03, 16.9], [0.95, 16.95], [0.84, 16.98], [1.08, 17.0], [0.88, 17.05],
  [0.99, 17.08], [0.78, 17.12], [0.93, 17.15], [1.04, 17.18], [0.85, 17.22], [0.97, 17.26], [0.9, 17.3], [1.01, 17.35],
  [0.81, 17.38], [0.94, 17.42], [0.87, 17.47], [1.04, 17.5], [0.98, 17.55], [0.91, 17.58], [0.74, 17.62], [0.84, 17.66],
  [1.01, 17.7], [0.95, 17.74], [0.89, 17.8], [1.03, 17.84], [0.81, 17.88], [0.92, 17.92], [0.98, 17.98], [0.86, 18.02],
  [1.02, 18.06], [0.94, 18.1], [0.78, 18.14], [0.9, 18.18], [1.0, 18.22], [0.83, 18.26], [0.95, 18.3], [1.03, 18.34],
  [0.88, 18.38], [0.92, 18.44], [0.99, 18.48], [0.8, 18.52], [0.91, 18.56], [1.01, 18.6], [0.86, 18.64], [0.96, 18.68],
  [0.89, 18.74], [0.99, 18.78], [0.83, 18.82], [0.93, 18.86], [0.88, 18.92], [0.77, 18.96], [0.85, 19.02], [0.81, 19.1],
  [1.02, 16.58], [1.05, 16.8], [0.97, 17.02], [1.02, 17.2], [0.99, 17.46], [0.93, 17.86],
  [0.86, 15.62], [0.93, 15.5], [1.0, 15.44], [1.05, 15.56], [0.97, 15.74], [1.08, 15.64], [1.1, 15.5],
  [1.06, 16.6], [1.09, 16.68], [0.87, 16.64], [0.96, 16.66], [1.02, 16.86], [1.08, 16.82], [0.9, 16.96], [0.99, 17.0],
  [1.05, 17.1], [0.82, 17.16], [0.95, 17.22], [1.05, 17.28], [0.88, 17.36], [1.02, 17.42], [0.96, 17.5], [1.07, 17.6],
  [0.8, 17.52], [1.0, 17.62], [0.87, 17.7], [0.97, 17.78], [1.04, 17.92], [0.83, 17.96], [0.93, 18.04], [0.98, 18.12],
  [0.88, 18.2], [1.03, 18.26], [0.92, 18.32], [0.97, 18.4], [0.84, 18.46], [1.0, 18.52], [0.94, 18.58], [0.89, 18.66],
  [0.98, 18.7], [0.91, 18.8], [0.79, 18.86], [0.96, 18.9], [0.75, 18.7], [0.72, 18.3], [0.74, 17.9], [0.71, 17.3],
  [0.76, 17.0], [1.05, 16.64],
];

const bhbVI: number[][] = [
  [-0.01, 16.74], [0.12, 16.69], [0.16, 16.72], [0.19, 16.69], [0.12, 16.85], [0.14, 16.83], [0.17, 16.81], [0.19, 16.88],
  [0.22, 16.77], [0.24, 16.84], [0.3, 16.82], [0.06, 16.94], [0.1, 16.98], [0.12, 17.02], [0.17, 16.98], [0.2, 16.96],
  [0.24, 17.03], [0.27, 17.05], [0.11, 17.09], [0.16, 17.06], [0.19, 17.12], [0.24, 17.13], [0.05, 17.2], [0.1, 17.25],
  [0.13, 17.17], [0.2, 17.3], [0.22, 17.19], [0.26, 17.16], [0.2, 17.37], [0.11, 17.54], [0.15, 17.57], [0.12, 17.79],
  [0.1, 18.0], [-0.05, 18.23], [0.28, 16.52], [0.31, 16.69], [-0.05, 16.73], [0.23, 16.52], [0.08, 17.42], [0.15, 17.48],
  [0.18, 17.65], [0.06, 17.7],
];

const sparseVI: number[][] = [
  [1.58, 12.35], [0.96, 12.98], [0.56, 13.25], [0.79, 13.13], [0.75, 13.25], [0.83, 13.4], [0.9, 13.5], [0.92, 13.52],
  [1.03, 13.5], [1.02, 13.61], [0.79, 13.74], [0.92, 13.84], [1.21, 13.44], [1.23, 13.79], [1.16, 14.0], [0.7, 14.13],
  [0.74, 14.15], [0.77, 14.21], [0.79, 14.15], [0.72, 14.33], [0.73, 14.36], [0.83, 14.32], [0.9, 14.62], [0.59, 14.89],
  [1.02, 14.66], [1.11, 14.48], [1.14, 14.47], [1.25, 14.19], [1.27, 14.32], [1.29, 14.31], [1.67, 14.06], [1.65, 13.6],
  [1.7, 13.62], [1.72, 13.65], [1.73, 13.79], [1.73, 13.85], [2.1, 13.28], [0.33, 15.3], [0.61, 15.58], [0.64, 15.67],
  [0.79, 15.5], [1.51, 15.18], [1.68, 15.14], [1.58, 15.69], [1.88, 15.99], [1.9, 15.99], [1.45, 16.07], [1.6, 14.0],
  [1.4, 14.4], [1.38, 14.78], [1.46, 14.55], [1.33, 14.72],
  [1.9, 17.09], [2.21, 17.53], [1.42, 17.33], [1.46, 17.34], [1.36, 17.47], [1.42, 17.71], [1.59, 17.79], [1.59, 18.12],
  [1.6, 18.35], [1.74, 18.38], [1.74, 18.65], [1.88, 18.12], [1.95, 18.49], [1.92, 18.56], [1.31, 18.01], [1.42, 18.11],
  [1.42, 18.23], [1.31, 18.25], [1.48, 18.59], [1.38, 18.72], [1.29, 18.79], [1.47, 18.88], [1.46, 19.03], [1.31, 19.16],
  [1.35, 19.16], [1.62, 19.19], [1.72, 19.19], [1.68, 19.37], [1.76, 19.56], [1.84, 19.58], [1.98, 19.47], [2.0, 19.59],
  [2.09, 19.62], [2.13, 19.86], [2.25, 20.07], [2.17, 20.15], [2.05, 20.29], [2.0, 20.34], [1.87, 20.38], [1.8, 20.36],
  [1.84, 20.37], [1.72, 20.27], [1.6, 20.26], [1.5, 20.2], [1.53, 20.26], [1.42, 20.17], [1.32, 20.23], [1.31, 20.37],
  [1.38, 20.37], [1.17, 20.3], [0.96, 19.51], [1.08, 19.58], [1.14, 19.4], [1.2, 19.29], [1.11, 19.72], [1.17, 19.75],
  [1.24, 19.82], [1.56, 19.88], [1.56, 20.0], [1.74, 20.0], [1.4, 19.53], [1.43, 19.7], [1.02, 19.63], [1.28, 19.7],
  [0.74, 19.6], [0.79, 19.78], [1.2, 18.4], [1.25, 17.85], [1.3, 17.2], [1.18, 17.6], [1.15, 18.95],
  [0.41, 17.08], [0.38, 17.57], [0.45, 17.36], [0.52, 17.7], [0.5, 18.44], [0.48, 18.23], [0.51, 18.26], [0.62, 18.67],
  [0.65, 16.76], [0.7, 17.02], [0.67, 17.8], [0.52, 17.97], [0.65, 18.28], [0.62, 18.99], [0.74, 16.7], [0.86, 16.6],
  [0.64, 16.76],
];

// ---------------- axis tick labels ----------------
const topYTicks = [15.8, 16, 16.2, 16.4];
const topBIXTicks = [1];
const topVIXTicks = [1];
const botYTicks = [13, 14, 15, 16, 17, 18, 19, 20];
const botBIXTicks = [0, 1, 2, 3, 4];
const botVIXTicks = [0, 1, 2];

// ---------------- helpers ----------------
type P = { x: number; y: number };
const zip = (xs: number[], ys: number[]): P[] => xs.map((x, i) => ({ x, y: ys[i] }));
const fromRows = (rows: number[][]): P[] => rows.flatMap(([v, ...cs]) => cs.map((c) => ({ x: c, y: v })));
const fromPairs = (pairs: number[][]): P[] => pairs.map(([c, v]) => ({ x: c, y: v }));

const fieldBI: P[] = [
  ...fromPairs(sparseBI), ...fromPairs(bhbBI), ...fromPairs(plumeBI), ...fromPairs(hbFieldBI), ...fromPairs(clumpBI),
  ...fromRows(rgbRowsBI), ...fromRows(edgeRowsBI), ...fromRows(sgbRowsBI), ...fromRows(msRowsBI),
];
const fieldVI: P[] = [
  ...fromPairs(sparseVI), ...fromPairs(bhbVI), ...fromPairs(plumeVI), ...fromPairs(hbFieldVI), ...fromPairs(clumpVI),
  ...fromRows(rgbRowsVI), ...fromRows(edgeRowsVI), ...fromRows(sgbRowsVI), ...fromRows(msRowsVI),
];

const FIELD = "#555555";
const CW = 660;
const CH = 1000;

const fieldSet = (data: P[]) => ({
  data, pointStyle: "rect", pointRadius: 2.15, pointHoverRadius: 2.15,
  backgroundColor: FIELD, borderWidth: 0, clip: 0, order: 9,
});
const redSet = (data: P[]) => ({
  data, pointStyle: "circle", pointRadius: 5.6, pointHoverRadius: 5.6,
  backgroundColor: "#ff0000", borderColor: "#000", borderWidth: 1.8, clip: 0, order: 1,
});
const circleSet = (data: P[]) => ({
  data, pointStyle: "circle", pointRadius: 5, pointHoverRadius: 5,
  backgroundColor: "#bdbdbd", borderColor: "#111", borderWidth: 1.2, clip: 0, order: 2,
});
const triSet = (data: P[]) => ({
  data, pointStyle: "triangle", pointRadius: 5.2, pointHoverRadius: 5.2,
  backgroundColor: "#a9a9a9", borderColor: "#111", borderWidth: 1.2, clip: 0, order: 2,
});
const boxSet = (data: P[], fill: string, order: number) => ({
  data, pointStyle: "rect", pointRadius: 5.8, pointHoverRadius: 5.8,
  backgroundColor: fill, borderColor: "#000", borderWidth: 1.3, clip: 0, order,
});
const crossSet = (data: P[]) => ({
  data, pointStyle: "crossRot", pointRadius: 5.6, pointHoverRadius: 5.6,
  borderColor: "#000", borderWidth: 1, clip: 0, order: 1,
});

type Note = { text: string; x: number; y: number };
type Panel = {
  box: [number, number, number, number];
  xr: [number, number];
  yr: [number, number];
  xMinor: number; xMajor: number; yMinor: number; yMajor: number;
  tick: [number, number, number, number]; // x major, x minor, y major, y minor
  xLabels: number[]; yLabels: number[];
  xTitle: string; yTitle: string | null;
  yLabelX: number; xLabelBase: number; xTitleBase: number; yTitleX: number;
  letter: string; letterFont: string; letterDx: number; letterDy: number;
  notes: Note[]; noteFont: string;
  datasets: any[];
};

const panels: Panel[] = [
  {
    box: [81, 14, 368.3, 255], xr: [0.2, 1.9], yr: [15.8, 16.5],
    xMinor: 0.1, xMajor: 1, yMinor: 0.1, yMajor: 0.2, tick: [15, 8, 14, 9],
    xLabels: topBIXTicks, yLabels: topYTicks, xTitle: "B\u2212I", yTitle: "V",
    yLabelX: 51, xLabelBase: 282, xTitleBase: 310, yTitleX: 16.5,
    letter: "a", letterFont: "37px 'DejaVu Sans'", letterDx: 31, letterDy: 48,
    notes: [{ text: "V23", x: 0.833, y: 16.05 }, { text: "V20", x: 1.36, y: 16.015 }],
    noteFont: "25px 'DejaVu Serif'",
    datasets: [redSet(zip(rrlBI, rrlV)), fieldSet(fieldBI)],
  },
  {
    box: [377.5, 14, 654, 255], xr: [0.2, 1.1], yr: [15.8, 16.5],
    xMinor: 0.1, xMajor: 1, yMinor: 0.1, yMajor: 0.2, tick: [15, 8, 14, 9],
    xLabels: topVIXTicks, yLabels: [], xTitle: "V\u2212I", yTitle: null,
    yLabelX: 0, xLabelBase: 282, xTitleBase: 310, yTitleX: 0,
    letter: "b", letterFont: "37px 'DejaVu Sans'", letterDx: 23, letterDy: 48,
    notes: [], noteFont: "25px 'DejaVu Serif'",
    datasets: [redSet(zip(rrlVI, rrlV)), fieldSet(fieldVI)],
  },
  {
    box: [82.5, 372, 368.3, 943], xr: [-0.2, 4.3], yr: [12.1, 20.5],
    xMinor: 0.1, xMajor: 1, yMinor: 0.25, yMajor: 1, tick: [14, 7, 15, 8],
    xLabels: botBIXTicks, yLabels: botYTicks, xTitle: "B\u2212I", yTitle: "V",
    yLabelX: 56.5, xLabelBase: 970, xTitleBase: 997, yTitleX: 24.5,
    letter: "c", letterFont: "25px 'DejaVu Serif'", letterDx: 30, letterDy: 43,
    notes: [
      { text: "LPV", x: 2.55, y: 13.52 },
      { text: "BL Her", x: 0.74, y: 15.02 },
      { text: "V13", x: 0.83, y: 15.64 },
      { text: "V24", x: 1.91, y: 15.79 },
      { text: "RRL", x: 0.34, y: 16.42 },
      { text: "V30", x: 0.57, y: 17.62 },
      { text: "C54", x: 1.32, y: 18.22 },
      { text: "SX Phe", x: 0.68, y: 18.72 },
    ],
    noteFont: "23px 'DejaVu Serif'",
    datasets: [
      crossSet(zip(boxedBI, boxedV)),
      boxSet(zip(boxedBI, boxedV), "#ffffff", 2),
      boxSet(zip(sxPheBI, sxPheV), "#aaaaaa", 3),
      circleSet([...zip(lpvBI, lpvV), ...zip(otherBI, otherV), ...zip(rrlBI, rrlV)]),
      triSet(zip(blHerBI, blHerV)),
      fieldSet(fieldBI),
    ],
  },
  {
    box: [377.5, 372, 653.5, 943], xr: [-0.1, 2.4], yr: [12.1, 20.5],
    xMinor: 0.1, xMajor: 1, yMinor: 0.25, yMajor: 1, tick: [14, 7, 15, 8],
    xLabels: botVIXTicks, yLabels: [], xTitle: "V\u2212I", yTitle: null,
    yLabelX: 0, xLabelBase: 970, xTitleBase: 997, yTitleX: 0,
    letter: "d", letterFont: "25px 'DejaVu Serif'", letterDx: 22, letterDy: 43,
    notes: [], noteFont: "23px 'DejaVu Serif'",
    datasets: [
      crossSet(zip(boxedVI, boxedV)),
      boxSet(zip(boxedVI, boxedV), "#ffffff", 2),
      boxSet(zip(sxPheVI, sxPheV), "#aaaaaa", 3),
      circleSet([...zip(lpvVI, lpvV), ...zip(otherVI, otherV), ...zip(rrlVI, rrlV)]),
      triSet(zip(blHerVI, blHerV)),
      fieldSet(fieldVI),
    ],
  },
];

const TICK_FONT = "19px 'DejaVu Serif'";
const TICK_STRETCH = 1.22;

function tickValues(min: number, max: number, step: number): number[] {
  const out: number[] = [];
  const k0 = Math.ceil(min / step - 1e-6);
  const k1 = Math.floor(max / step + 1e-6);
  for (let k = k0; k <= k1; k++) out.push(+(k * step).toFixed(6));
  return out;
}
const isMajor = (v: number, m: number) => Math.abs(v / m - Math.round(v / m)) < 1e-6;

function stretchText(ctx: CanvasRenderingContext2D, s: string, x: number, y: number, sx: number) {
  ctx.save();
  ctx.translate(x, y);
  ctx.scale(sx, 1);
  ctx.fillText(s, 0, 0);
  ctx.restore();
}

function framePlugin(p: Panel) {
  return {
    id: "cmdFrame",
    afterDatasetsDraw(chart: any) {
      const ctx: CanvasRenderingContext2D = chart.ctx;
      const xs = chart.scales.x;
      const ys = chart.scales.y;
      const { left, top, right, bottom } = chart.chartArea;
      const [xMaj, xMin, yMaj, yMin] = p.tick;
      ctx.save();
      ctx.strokeStyle = "#000";
      ctx.fillStyle = "#000";
      ctx.lineWidth = 1.5;
      ctx.beginPath();
      for (const v of tickValues(p.xr[0], p.xr[1], p.xMinor)) {
        const px = xs.getPixelForValue(v);
        const len = isMajor(v, p.xMajor) ? xMaj : xMin;
        ctx.moveTo(px, bottom); ctx.lineTo(px, bottom - len);
        ctx.moveTo(px, top); ctx.lineTo(px, top + len);
      }
      for (const v of tickValues(p.yr[0], p.yr[1], p.yMinor)) {
        const py = ys.getPixelForValue(v);
        const len = isMajor(v, p.yMajor) ? yMaj : yMin;
        ctx.moveTo(left, py); ctx.lineTo(left + len, py);
        ctx.moveTo(right, py); ctx.lineTo(right - len, py);
      }
      ctx.stroke();
      ctx.lineWidth = 2;
      ctx.strokeRect(left, top, right - left, bottom - top);

      // tick labels
      ctx.font = TICK_FONT;
      ctx.textAlign = "center";
      ctx.textBaseline = "alphabetic";
      for (const v of p.xLabels) stretchText(ctx, String(v), xs.getPixelForValue(v), p.xLabelBase, TICK_STRETCH);
      for (const v of p.yLabels) stretchText(ctx, String(v), p.yLabelX, ys.getPixelForValue(v) + 7, TICK_STRETCH);

      // axis titles
      ctx.font = "20px 'DejaVu Serif'";
      ctx.fillText(p.xTitle, (left + right) / 2, p.xTitleBase);
      if (p.yTitle) {
        ctx.save();
        ctx.translate(p.yTitleX, (top + bottom) / 2);
        ctx.rotate(-Math.PI / 2);
        ctx.textBaseline = "middle";
        ctx.fillText(p.yTitle, 0, 0);
        ctx.restore();
      }

      // panel letter
      ctx.font = p.letterFont;
      ctx.textAlign = "left";
      ctx.fillText(p.letter, left + p.letterDx, top + p.letterDy);

      // annotations
      ctx.font = p.noteFont;
      ctx.textAlign = "center";
      for (const n of p.notes) ctx.fillText(n.text, xs.getPixelForValue(n.x), ys.getPixelForValue(n.y));
      ctx.restore();
    },
  };
}

function CmdPanel({ panel }: { panel: Panel }) {
  const ref = useRef<HTMLCanvasElement | null>(null);
  useEffect(() => {
    if (!ref.current) return;
    const [l, t, r, b] = panel.box;
    const chart = new Chart(ref.current, {
      type: "scatter",
      data: { datasets: panel.datasets as any },
      options: {
        responsive: false,
        animation: false,
        devicePixelRatio: 1,
        events: [],
        layout: { padding: { left: l, top: t, right: CW - r, bottom: CH - b } },
        scales: {
          x: { type: "linear", min: panel.xr[0], max: panel.xr[1], display: false },
          y: { type: "linear", min: panel.yr[0], max: panel.yr[1], reverse: true, display: false },
        },
        plugins: { legend: { display: false }, tooltip: { enabled: false } },
      },
      plugins: [framePlugin(panel)],
    } as any);
    return () => chart.destroy();
  }, [panel]);
  return (
    <canvas
      ref={ref}
      width={CW}
      height={CH}
      style={{ position: "absolute", left: 0, top: 0, width: CW, height: CH }}
    />
  );
}

export default function App() {
  return (
    <div
      style={{
        position: "absolute", left: 0, top: 0, width: 652, height: 1000,
        overflow: "hidden", background: "#fff",
      }}
    >
      {panels.map((p) => (
        <CmdPanel key={p.letter} panel={p} />
      ))}
    </div>
  );
}
